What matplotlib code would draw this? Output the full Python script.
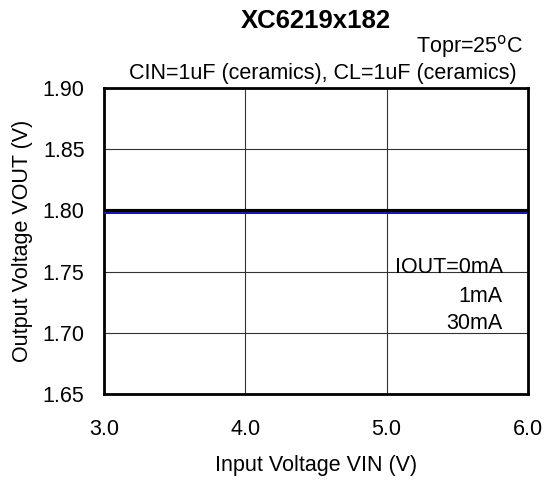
import matplotlib.pyplot as plt
import numpy as np

plt.rcParams['font.family'] = ['Liberation Sans', 'DejaVu Sans']

vin = [3.0, 3.5, 4.0, 4.5, 5.0, 5.5, 6.0]
vout_0ma = [1.800, 1.800, 1.800, 1.800, 1.800, 1.800, 1.800]
vout_1ma = [1.800, 1.800, 1.800, 1.800, 1.800, 1.800, 1.800]
vout_30ma = [1.7985, 1.7985, 1.7985, 1.7985, 1.7985, 1.7985, 1.7985]
labels = ["IOUT=0mA", "1mA", "30mA"]

fig = plt.figure(figsize=(5.51, 4.80), dpi=100)
ax = fig.add_axes([104 / 551, 1 - 394 / 480, 424 / 551, 306 / 480])

ax.plot(vin, vout_30ma, color='#1a1a9a', lw=2.2, zorder=3)
ax.plot(vin, vout_1ma, color='#000000', lw=1.5, zorder=4)
ax.plot(vin, vout_0ma, color='#000000', lw=2.2, zorder=4)

ax.set_xlim(3.0, 6.0)
ax.set_ylim(1.65, 1.90)
ax.set_xticks(np.arange(3.0, 6.01, 1.0))
ax.set_yticks(np.arange(1.65, 1.901, 0.05))
ax.xaxis.set_major_formatter(plt.FormatStrFormatter('%.1f'))
ax.yaxis.set_major_formatter(plt.FormatStrFormatter('%.2f'))
ax.tick_params(length=0, labelsize=15.5, colors='black')
ax.tick_params(axis='x', pad=18)
ax.tick_params(axis='y', pad=14)
ax.grid(True, color='#333333', lw=0.8)
for s in ax.spines.values():
    s.set_linewidth(2)

ax.set_xlabel('Input Voltage VIN (V)', fontsize=15.5, labelpad=11)
ax.set_ylabel('Output Voltage VOUT (V)', fontsize=15.5, labelpad=7)

fig.text(316 / 551, 1 - 21 / 480, 'XC6219x182', fontsize=18.5, fontweight='bold',
         ha='center', va='center')
fig.text(523 / 551, 1 - 47 / 480, 'Topr=25$^{\\rm o}$C', fontsize=15.5, ha='right', va='center')
fig.text(517 / 551, 1 - 74 / 480, 'CIN=1uF (ceramics), CL=1uF (ceramics)', fontsize=15.5,
         ha='right', va='center')

ys = [0.415, 0.32, 0.232]
for lab, y in zip(labels, ys):
    ax.text(0.941, y, lab, transform=ax.transAxes, fontsize=15.5,
            ha='right', va='center')

fig.savefig('out.png', dpi=100)
